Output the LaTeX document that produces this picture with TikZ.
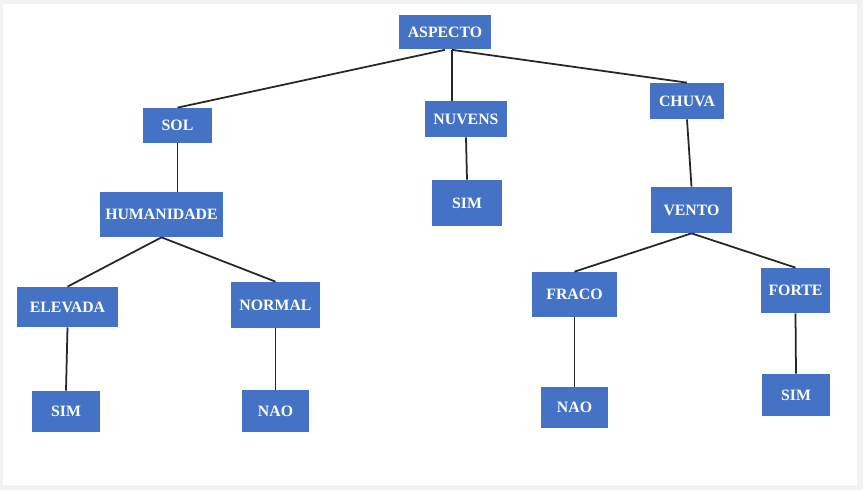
\documentclass[tikz,border=0pt]{standalone}
\usepackage{fontspec}
\setmainfont{Liberation Serif}
\usepackage{tikz}
\usetikzlibrary{
  positioning,
  calc
}
\definecolor{boxblue}{RGB}{68, 114, 196}
\definecolor{framegray}{RGB}{242, 242, 242}

\begin{document}
\begin{tikzpicture}[
  x=0.02cm, y=-0.02cm,
  box/.style={fill=boxblue, text=white, inner sep=0pt,
    font=\fontsize{9}{10}\selectfont\bfseries},
  link/.style={draw=black!85, line width=1pt}
]

% frame
\useasboundingbox (0,0) rectangle (863,490);
\fill[framegray] (0,0) rectangle (863,490);
\fill[white] (3,4) rectangle (857,485);

% level 0
\node[box, minimum width=1.86cm, minimum height=0.70cm] (aspecto) at (445,32) {ASPECTO};

% level 1
\node[box, minimum width=1.38cm, minimum height=0.70cm] (sol) at (177.5,125.5) {SOL};
\node[box, minimum width=1.64cm, minimum height=0.72cm] (nuvens) at (466,119) {NUVENS};
\node[box, minimum width=1.48cm, minimum height=0.72cm] (chuva) at (687,101) {CHUVA};

% level 2
\node[box, minimum width=2.46cm, minimum height=0.90cm] (humanidade) at (161.5,214.5) {HUMANIDADE};
\node[box, minimum width=1.40cm, minimum height=0.92cm] (nuvsim) at (467,203) {SIM};
\node[box, minimum width=1.62cm, minimum height=0.92cm] (vento) at (691.5,210) {VENTO};

% level 3
\node[box, minimum width=2.02cm, minimum height=0.80cm] (elevada) at (67.5,307) {ELEVADA};
\node[box, minimum width=1.78cm, minimum height=0.92cm] (normal) at (275.5,305) {NORMAL};
\node[box, minimum width=1.70cm, minimum height=0.90cm] (fraco) at (574.5,294.5) {FRACO};
\node[box, minimum width=1.38cm, minimum height=0.90cm] (forte) at (795.5,290.5) {FORTE};

% leaves
\node[box, minimum width=1.36cm, minimum height=0.82cm] (elevsim) at (66,411.5) {SIM};
\node[box, minimum width=1.34cm, minimum height=0.84cm] (normnao) at (275.5,411) {NAO};
\node[box, minimum width=1.34cm, minimum height=0.82cm] (fraconao) at (574.5,407.5) {NAO};
\node[box, minimum width=1.36cm, minimum height=0.84cm] (fortesim) at (796,395) {SIM};

% links
\coordinate (aspj) at ($(aspecto.south)+(7,0)$);
\draw[link] (aspecto.south) -- (sol.north);
\draw[link] (aspj) -- (aspj |- nuvens.north);
\draw[link] (aspj) -- (chuva.north);
\draw[link] (sol.south) -- (sol.south |- humanidade.north);
\draw[link] (nuvens.south) -- (nuvsim.north);
\draw[link] (chuva.south) -- (vento.north);
\draw[link] (humanidade.south) -- (elevada.north);
\draw[link] (humanidade.south) -- (normal.north);
\draw[link] (vento.south) -- (fraco.north);
\draw[link] (vento.south) -- (forte.north);
\draw[link] (elevada.south) -- (elevsim.north);
\draw[link] (normal.south) -- (normnao.north);
\draw[link] (fraco.south) -- (fraconao.north);
\draw[link] (forte.south) -- (fortesim.north);

\end{tikzpicture}
\end{document}
